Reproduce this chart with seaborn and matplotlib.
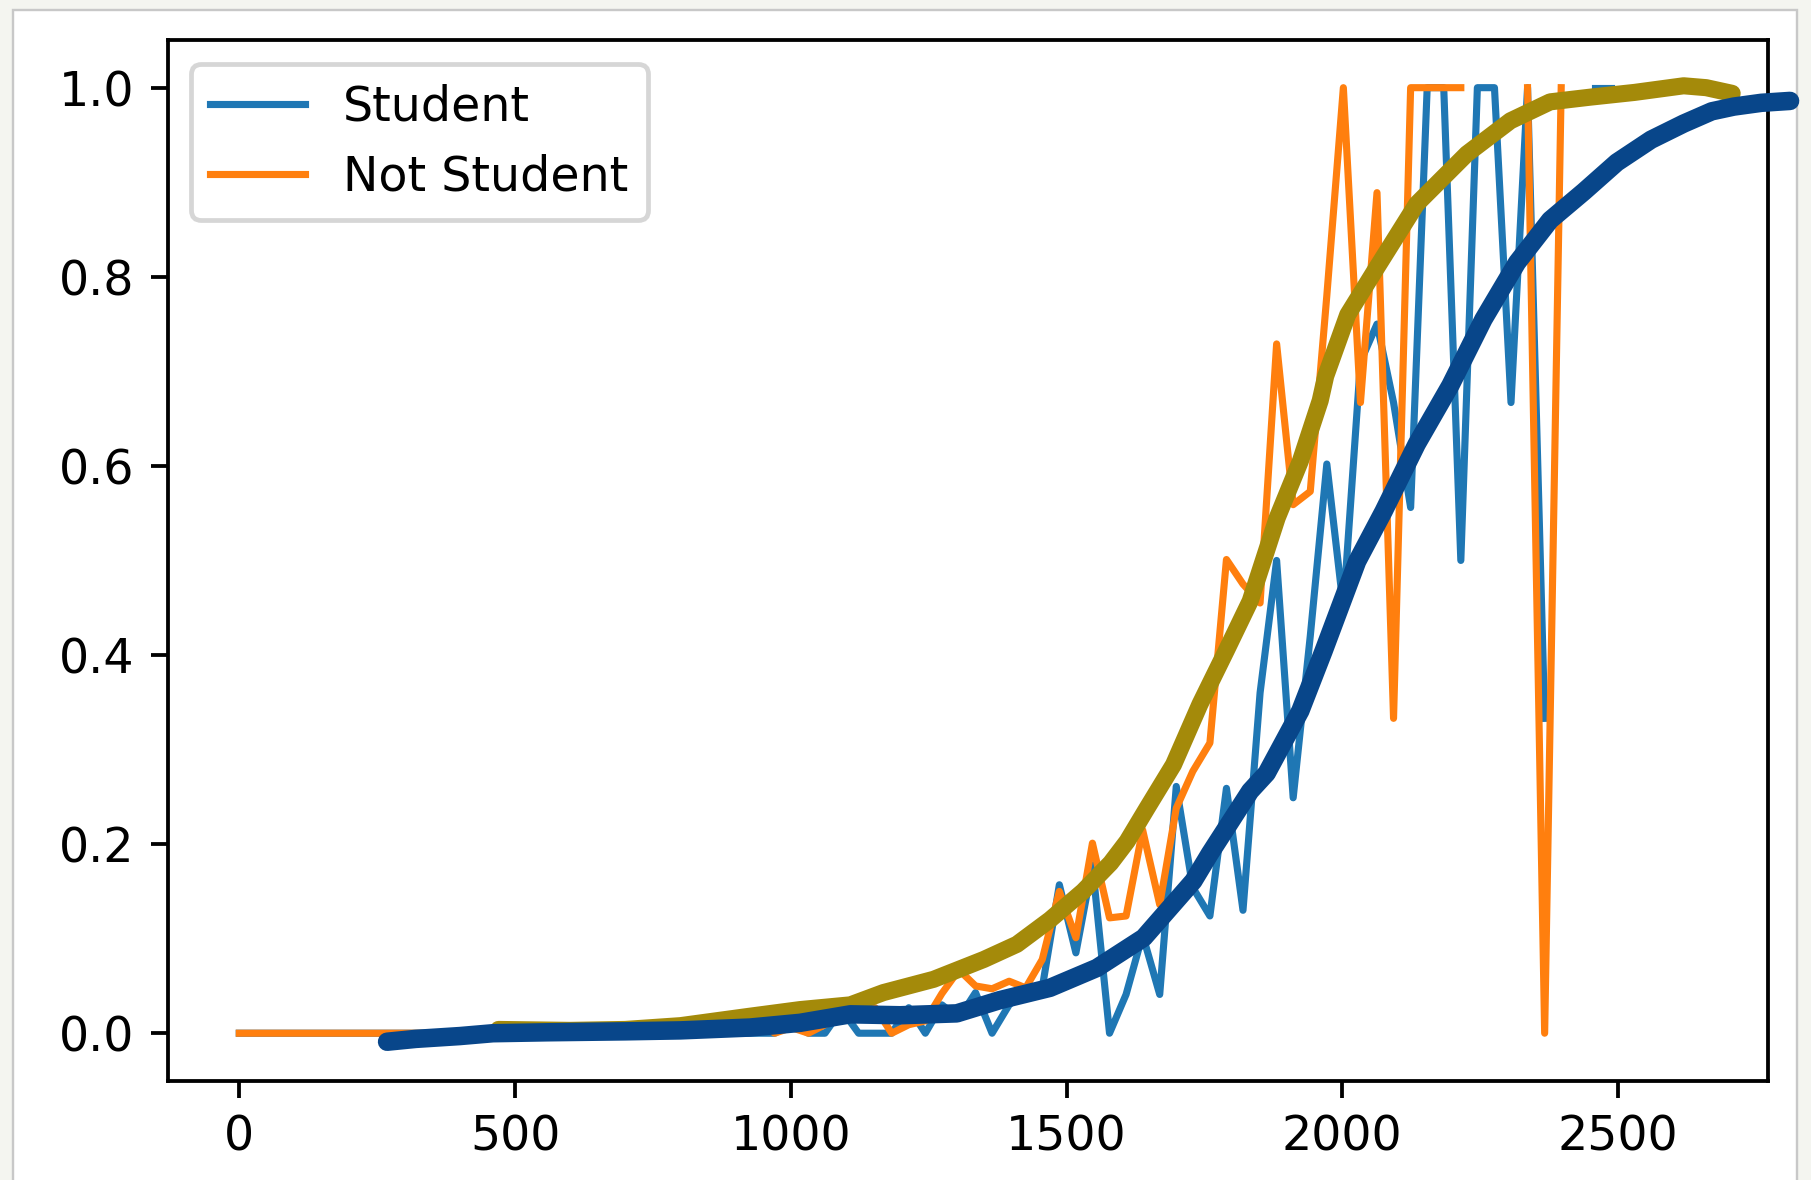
import numpy as np
import pandas as pd
import matplotlib
matplotlib.use("Agg")
import matplotlib.pyplot as plt
from matplotlib.patches import Rectangle
import seaborn as sns

nan = np.nan

# ---- data -------------------------------------------------------------
balance_bins = [
    0, 30, 61, 91, 121, 152, 182, 212, 243, 273,
    303, 334, 364, 394, 425, 455, 485, 516, 546, 576,
    607, 637, 667, 698, 728, 759, 789, 819, 850, 880,
    910, 941, 971, 1001, 1032, 1062, 1092, 1123, 1153, 1183,
    1214, 1244, 1274, 1305, 1335, 1365, 1396, 1426, 1456, 1487,
    1517, 1547, 1578, 1608, 1638, 1669, 1699, 1729, 1760, 1790,
    1820, 1851, 1881, 1911, 1942, 1972, 2002, 2033, 2063, 2093,
    2124, 2154, 2184, 2215, 2245, 2276, 2306, 2336, 2367, 2397,
    2427, 2458, 2488, 2518, 2549, 2579, 2609, 2640,
]

student_rate = [
    0, 0, 0, 0, 0, 0, 0, 0, 0, 0,
    0, 0, 0, 0, 0, 0, 0, 0, 0, 0,
    0, 0, 0, 0, 0, 0, 0, 0, 0, 0.005,
    0, 0, 0, 0.01, 0, 0, 0.025, 0, 0, 0,
    0.027, 0, 0.03, 0.016, 0.043, 0, 0.03, 0.045, 0.048, 0.157,
    0.085, 0.178, 0, 0.041, 0.104, 0.041, 0.261, 0.154, 0.124, 0.259,
    0.13, 0.36, 0.50, 0.249, 0.42, 0.602, 0.45, 0.71, 0.75, 0.667,
    0.556, 1, 1, 0.5, 1, 1, 0.667, 1, 0.333, nan,
    nan, 1, 1, nan, nan, nan, nan, nan,
]

not_student_rate = [
    0, 0, 0, 0, 0, 0, 0, 0, 0, 0,
    0, 0, 0, 0, 0, 0.003, 0, 0, 0, 0,
    0.004, 0.004, 0, 0, 0.006, 0, 0, 0, 0.004, 0.007,
    0, 0.012, 0, 0.006, 0, 0.009, 0.02, 0.018, 0.027, 0,
    0.009, 0.013, 0.042, 0.067, 0.05, 0.047, 0.055, 0.048, 0.078, 0.150,
    0.101, 0.201, 0.122, 0.124, 0.215, 0.136, 0.238, 0.277, 0.307, 0.501,
    0.475, 0.455, 0.729, 0.559, 0.573, 0.78, 1, 0.667, 0.889, 0.333,
    1, 1, 1, 1, nan, nan, nan, 1, 0, 1,
    nan, nan, nan, nan, nan, nan, nan, nan,
]

series_labels = ["Student", "Not Student"]
series_colors = ["#1f77b4", "#ff7f0e"]

# hand-drawn smooth trend curves
olive_x = [470, 600, 700, 800, 926, 1017, 1108, 1168, 1259, 1350, 1410, 1470,
           1530, 1580, 1610, 1646, 1694, 1742, 1790, 1833, 1882, 1924, 1960,
           1970, 2010, 2063, 2135, 2226, 2305, 2377, 2450, 2530, 2619, 2660, 2707]
olive_y = [0.004, 0.003, 0.004, 0.008, 0.018, 0.025, 0.030, 0.043, 0.057, 0.078,
           0.094, 0.120, 0.150, 0.180, 0.203, 0.238, 0.284, 0.348, 0.405, 0.457,
           0.545, 0.605, 0.669, 0.695, 0.760, 0.810, 0.877, 0.930, 0.965, 0.985,
           0.990, 0.995, 1.002, 1.0, 0.994]

navy_x = [268, 320, 400, 460, 560, 700, 800, 926, 1017, 1108, 1198, 1301, 1379,
          1470, 1555, 1640, 1730, 1760, 1833, 1863, 1924, 1966, 2027, 2075, 2135,
          2196, 2256, 2317, 2377, 2438, 2498, 2560, 2619, 2670, 2710, 2760, 2812]
navy_y = [-0.009, -0.006, -0.003, 0.0, 0.001, 0.002, 0.003, 0.006, 0.011, 0.020,
          0.019, 0.021, 0.035, 0.048, 0.069, 0.101, 0.161, 0.190, 0.256, 0.275,
          0.341, 0.404, 0.499, 0.552, 0.623, 0.685, 0.755, 0.815, 0.860, 0.890,
          0.921, 0.945, 0.962, 0.975, 0.980, 0.984, 0.986]

olive_color = "#a48a0a"
navy_color = "#08468a"

# ---- build long table with gap-preserving segments -----------------------
rows = []
for label, vals in zip(series_labels, [student_rate, not_student_rate]):
    seg = 0
    prev_nan = True
    for b, v in zip(balance_bins, vals):
        if v is None or (isinstance(v, float) and np.isnan(v)):
            prev_nan = True
            continue
        if prev_nan:
            seg += 1
        prev_nan = False
        rows.append({"balance": b, "rate": v, "status": label,
                     "segment": f"{label}-{seg}"})
df = pd.DataFrame(rows)

# ---- figure ----------------------------------------------------------------
DPI = 342
W, H = 1812, 1180
fig = plt.figure(figsize=(W / DPI, H / DPI), dpi=DPI, facecolor="#f4f5f0")
fig.patches.append(Rectangle((13 / W, -0.01), (1797 - 13) / W, (H - 10) / H + 0.01,
                             transform=fig.transFigure, facecolor="white",
                             edgecolor="#c8c8c8", linewidth=0.5, zorder=-1))

left, right, top, bottom = 167.6, 1768.0, 40.4, 1080.5
ax = fig.add_axes([left / W, (H - bottom) / H, (right - left) / W, (bottom - top) / H])
ax.set_facecolor("white")

sns.lineplot(data=df, x="balance", y="rate", hue="status", units="segment",
             estimator=None, hue_order=series_labels, palette=series_colors,
             linewidth=1.5, ax=ax)

sns.lineplot(x=olive_x, y=olive_y, color=olive_color, linewidth=3.6,
             solid_capstyle="round", solid_joinstyle="round", legend=False,
             ax=ax, zorder=5)
sns.lineplot(x=navy_x, y=navy_y, color=navy_color, linewidth=3.9,
             solid_capstyle="round", solid_joinstyle="round", legend=False,
             ax=ax, zorder=6, clip_on=False)

ax.set_xlim(-130, 2772)
ax.set_ylim(-0.05, 1.05)
ax.set_xticks([0, 500, 1000, 1500, 2000, 2500])
ax.set_yticks([0.0, 0.2, 0.4, 0.6, 0.8, 1.0])
ax.set_xlabel("")
ax.set_ylabel("")
for s in ax.spines.values():
    s.set_visible(True)
    s.set_color("black")
    s.set_linewidth(0.8)

sns.move_legend(ax, "upper left", title=None, frameon=True)

fig.savefig("out.png", dpi=DPI, facecolor=fig.get_facecolor())
